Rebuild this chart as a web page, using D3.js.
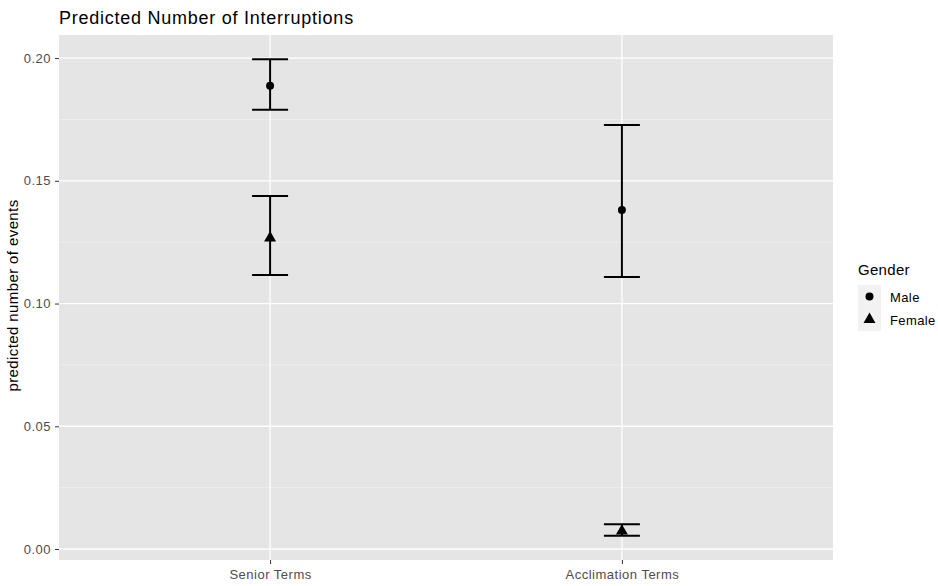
<!DOCTYPE html>
<html><head><meta charset="utf-8">
<script src="https://cdn.jsdelivr.net/npm/d3@7"></script>
<style>body{margin:0;background:#fff;} text{font-family:"Liberation Sans",Arial,sans-serif;}</style>
</head><body><svg id="c" width="938" height="586"></svg>
<script>
const categories = ["Senior Terms", "Acclimation Terms"];
const genders = ["Male", "Female"];
const maleEst = [0.1887, 0.1381];
const maleLow = [0.1789, 0.1108];
const maleHigh = [0.1995, 0.1727];
const femaleEst = [0.1267, 0.0073];
const femaleLow = [0.1116, 0.0054];
const femaleHigh = [0.1438, 0.0101];
const yTicks = [0, 0.05, 0.10, 0.15, 0.20];
const yMinor = [0.025, 0.075, 0.125, 0.175];

const rows = [];
categories.forEach((c, i) => {
  rows.push({cat: c, g: "Male", est: maleEst[i], lo: maleLow[i], hi: maleHigh[i]});
  rows.push({cat: c, g: "Female", est: femaleEst[i], lo: femaleLow[i], hi: femaleHigh[i]});
});

const svg = d3.select("#c");
const L = 59, R = 833, T = 35, B = 560;
const y = d3.scaleLinear().domain([-0.00448, 0.2094]).range([B, T]);
const x = d3.scalePoint().domain(categories).range([L, R]).padding(0.6);

svg.append("rect").attr("x", L).attr("y", T).attr("width", R - L).attr("height", B - T).attr("fill", "#e5e5e5");

const g = svg.append("g");
g.selectAll(".minor").data(yMinor).join("line")
  .attr("x1", L).attr("x2", R).attr("y1", d => y(d)).attr("y2", d => y(d))
  .attr("stroke", "#f2f2f2").attr("stroke-width", 0.7);
g.selectAll(".major").data(yTicks).join("line")
  .attr("x1", L).attr("x2", R).attr("y1", d => y(d)).attr("y2", d => y(d))
  .attr("stroke", "#ffffff").attr("stroke-width", 1.3);
g.selectAll(".vmajor").data(categories).join("line")
  .attr("x1", d => x(d)).attr("x2", d => x(d)).attr("y1", T).attr("y2", B)
  .attr("stroke", "#ffffff").attr("stroke-width", 1.3);

// axes
const yAxis = d3.axisLeft(y).tickValues(yTicks).tickFormat(d3.format(".2f")).tickSize(4).tickPadding(4);
const ya = svg.append("g").attr("transform", `translate(${L},0)`).call(yAxis);
ya.select(".domain").remove();
ya.selectAll("line").attr("stroke", "#333").attr("stroke-width", 1);
ya.selectAll("text").attr("fill", "#4d4d4d").style("font-size", "13px").style("letter-spacing", "0.5px");

const xAxis = d3.axisBottom(x).tickSize(4).tickPadding(6);
const xa = svg.append("g").attr("transform", `translate(0,${B})`).call(xAxis);
xa.select(".domain").remove();
xa.selectAll("line").attr("stroke", "#333").attr("stroke-width", 1);
xa.selectAll("text").attr("fill", "#4d4d4d").style("font-size", "13px").style("letter-spacing", "0.5px");

// error bars
const capW = 18;
const eb = svg.append("g");
eb.selectAll(".v").data(rows).join("line")
  .attr("x1", d => x(d.cat)).attr("x2", d => x(d.cat))
  .attr("y1", d => y(d.lo)).attr("y2", d => y(d.hi))
  .attr("stroke", "#000").attr("stroke-width", 2);
eb.selectAll(".hi").data(rows).join("line")
  .attr("x1", d => x(d.cat) - capW).attr("x2", d => x(d.cat) + capW)
  .attr("y1", d => y(d.hi)).attr("y2", d => y(d.hi))
  .attr("stroke", "#000").attr("stroke-width", 2);
eb.selectAll(".lo").data(rows).join("line")
  .attr("x1", d => x(d.cat) - capW).attr("x2", d => x(d.cat) + capW)
  .attr("y1", d => y(d.lo)).attr("y2", d => y(d.lo))
  .attr("stroke", "#000").attr("stroke-width", 2);

const shape = d3.scaleOrdinal().domain(genders).range([d3.symbolCircle, d3.symbolTriangle]);
const sz = d3.scaleOrdinal().domain(genders).range([50, 62]);
eb.selectAll(".pt").data(rows).join("path")
  .attr("transform", d => `translate(${x(d.cat)},${y(d.est)})`)
  .attr("d", d => d3.symbol().type(shape(d.g)).size(sz(d.g))())
  .attr("fill", "#000");

// title
svg.append("text").attr("x", L).attr("y", 24).text("Predicted Number of Interruptions")
  .attr("fill", "#000").style("font-size", "18px").style("letter-spacing", "0.75px");
// y label
svg.append("text").attr("transform", `translate(18,${(T + B) / 2 - 2}) rotate(-90)`)
  .attr("text-anchor", "middle").text("predicted number of events")
  .attr("fill", "#000").style("font-size", "15px").style("letter-spacing", "0.4px");

// legend
const lg = svg.append("g").attr("transform", "translate(858,0)");
lg.append("text").attr("x", 0).attr("y", 275).text("Gender").attr("fill", "#000")
  .style("font-size", "15px").style("letter-spacing", "0.3px");
genders.forEach((gname, i) => {
  const cy = 296.5 + i * 23;
  lg.append("rect").attr("x", 0).attr("y", cy - 11.5).attr("width", 23).attr("height", 23).attr("fill", "#f2f2f2");
  lg.append("path").attr("transform", `translate(11.5,${cy})`)
    .attr("d", d3.symbol().type(shape(gname)).size(sz(gname))()).attr("fill", "#000");
  lg.append("text").attr("x", 32).attr("y", cy + 5).text(gname).attr("fill", "#000")
    .style("font-size", "13px").style("letter-spacing", "0.4px");
});
</script></body></html>
